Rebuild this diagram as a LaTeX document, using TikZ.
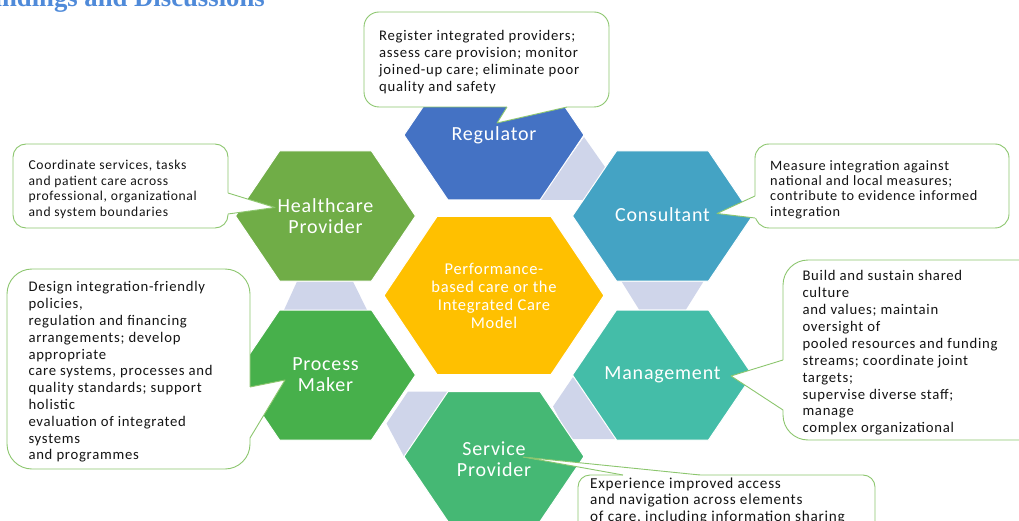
\documentclass[tikz,border=0pt]{standalone}
\usepackage{fontspec}
\setmainfont{Carlito}
\newfontfamily\cbody[LetterSpace=5]{Carlito}
\newfontfamily\chex[LetterSpace=4]{Carlito}
\newfontfamily\headfont{Liberation Serif}
\definecolor{regblue}{HTML}{4472C4}
\definecolor{hcgreen}{HTML}{70AD47}
\definecolor{consblue}{HTML}{44A3C4}
\definecolor{centery}{HTML}{FFC000}
\definecolor{procgreen}{HTML}{47B04B}
\definecolor{mgmtteal}{HTML}{44BDA8}
\definecolor{servgreen}{HTML}{45B874}
\definecolor{connfill}{HTML}{CFD5EA}
\definecolor{callgreen}{HTML}{8CC66E}
\definecolor{headblue}{HTML}{4F8AD9}
\newcommand\hexshape[3]{%
  \path[hexfill, fill=#1, shift={(#2,#3)}] (-90,0) -- (-46,-65) -- (46,-65) -- (90,0) -- (46,65) -- (-46,65) -- cycle;}
\begin{document}
\begin{tikzpicture}[x=1pt,y=-1pt,
  hexfill/.style={draw=white, line width=1},
  conn/.style={fill=connfill},
  callbox/.style={fill=white, draw=callgreen, line width=0.9},
  callline/.style={draw=callgreen, line width=0.9, line join=round},
  hexlabel/.style={text=white, align=center, inner sep=0, font=\chex\fontsize{20}{21}\selectfont},
  ctext/.style={anchor=north west, align=left, inner sep=0, text=black!92, font=\cbody\fontsize{14.7}{16.8}\selectfont},
  ctextsmall/.style={anchor=north west, align=left, inner sep=0, text=black!92, font=\cbody\fontsize{13.6}{15.4}\selectfont}]
\useasboundingbox (0,0) rectangle (1019,521);
\clip (0,0) rectangle (1019,521);
% heading
\node[anchor=base east, text=headblue, inner sep=0, font=\headfont\bfseries\fontsize{26.7}{30}\selectfont] (head) at (265,6.5) {Findings and Discussions};
% connectors
\fill[conn] (584,137) -- (612,177) -- (600,200) -- (539,200) -- cycle;
\fill[conn] (297,281.5) -- (353,281.5) -- (367,310) -- (284,310) -- cycle;
\fill[conn] (621.5,281.5) -- (703.5,281.5) -- (686,309.5) -- (639,309.5) -- cycle;
\fill[conn] (408,391.5) -- (449,391.5) -- (404,456.5) -- (386.5,423.5) -- cycle;
\fill[conn] (573,377) -- (553,406.5) -- (570,439) -- (620,439) -- cycle;
% hexagons
\hexshape{regblue}{494}{135}
\hexshape{hcgreen}{325.5}{216}
\hexshape{consblue}{662.5}{216}
\hexshape{procgreen}{325.5}{375}
\hexshape{mgmtteal}{662.5}{375}
\hexshape{servgreen}{494}{456.5}
\path[hexfill, fill=centery] (384,295.5) -- (437,216.5) -- (551,216.5) -- (604,295.5) -- (551,374.5) -- (437,374.5) -- cycle;
% labels
\node[hexlabel] (reg) at (494,135) {Regulator};
\node[hexlabel] (hc) at (325.5,216) {Healthcare\\Provider};
\node[hexlabel] (cons) at (662.5,215) {Consultant};
\node[hexlabel] (proc) at (325.5,375) {Process\\Maker};
\node[hexlabel] (mgmt) at (662.5,375) {Management};
\node[hexlabel] (serv) at (494,459) {Service\\Provider};
\node[hexlabel, font=\chex\fontsize{16.5}{18}\selectfont] (core) at (494,295.5) {Performance-\\based care or the\\Integrated Care\\Model};
% pointer tips
\coordinate (t1) at (497,123);
\coordinate (t2) at (275,207.5);
\coordinate (t3) at (717,213.5);
\coordinate (t4) at (285,380);
\coordinate (t5) at (731,376);
\coordinate (t6) at (523,457);
% callout 1
\path[callbox, rounded corners=15] (364,12) rectangle (609,107);
\fill[white] (507,107) -- (t1) -- (567,107) -- (567,103) -- (507,103) -- cycle;
\draw[callline] (507,107) -- (t1) -- (567,107);
\node[ctext] (c1) at (379,30.5) {Register integrated providers;\\assess care provision; monitor\\joined-up care; eliminate poor\\quality and safety};
% callout 2
\path[callbox, rounded corners=13] (13,144) rectangle (228,228);
\fill[white] (228,193) -- (t2) -- (228,214) -- (224,214) -- (224,193) -- cycle;
\draw[callline] (228,193) -- (t2) -- (228,214);
\node[ctextsmall] (c2) at (28.3,160.3) {Coordinate services, tasks\\and patient care across\\professional, organizational\\and system boundaries};
% callout 3
\path[callbox, rounded corners=14] (755,144) rectangle (1009,228);
\fill[white] (755,196) -- (t3) -- (755,218) -- (759,218) -- (759,196) -- cycle;
\draw[callline] (755,196) -- (t3) -- (755,218);
\node[ctextsmall, font=\cbody\fontsize{14.3}{15.4}\selectfont] (c3) at (770,160) {Measure integration against\\national and local measures;\\contribute to evidence informed\\integration};
% callout 4
\path[callbox, rounded corners=25] (7,269) rectangle (250,469);
\fill[white] (250,387) -- (t4) -- (250,438) -- (246,438) -- (246,387) -- cycle;
\draw[callline] (250,387) -- (t4) -- (250,438);
\node[ctext] (c4) at (28.3,281.5) {Design integration-friendly\\policies,\\regulation and financing\\arrangements; develop\\appropriate\\care systems, processes and\\quality standards; support\\holistic\\evaluation of integrated\\systems\\and programmes};
% callout 5
\path[callbox, rounded corners=25] (783,260) rectangle (1045,440);
\fill[white] (783,360) -- (t5) -- (783,410) -- (787,410) -- (787,360) -- cycle;
\draw[callline] (783,360) -- (t5) -- (783,410);
\node[ctext, font=\cbody\fontsize{14.7}{16.9}\selectfont] (c5) at (802.3,270.3) {Build and sustain shared\\culture\\and values; maintain\\oversight of\\pooled resources and funding\\streams; coordinate joint\\targets;\\supervise diverse staff;\\manage\\complex organizational};
% callout 6
\path[callbox, rounded corners=12] (578,475) rectangle (875,545);
\fill[white] (623,475) -- (t6) -- (700,475) -- (700,479) -- (623,479) -- cycle;
\draw[callline] (623,475) -- (t6) -- (700,475);
\node[ctext, font=\cbody\fontsize{15.2}{16.4}\selectfont] (c6) at (590,477.5) {Experience improved access\\and navigation across elements\\of care, including information sharing};
\end{tikzpicture}
\end{document}
